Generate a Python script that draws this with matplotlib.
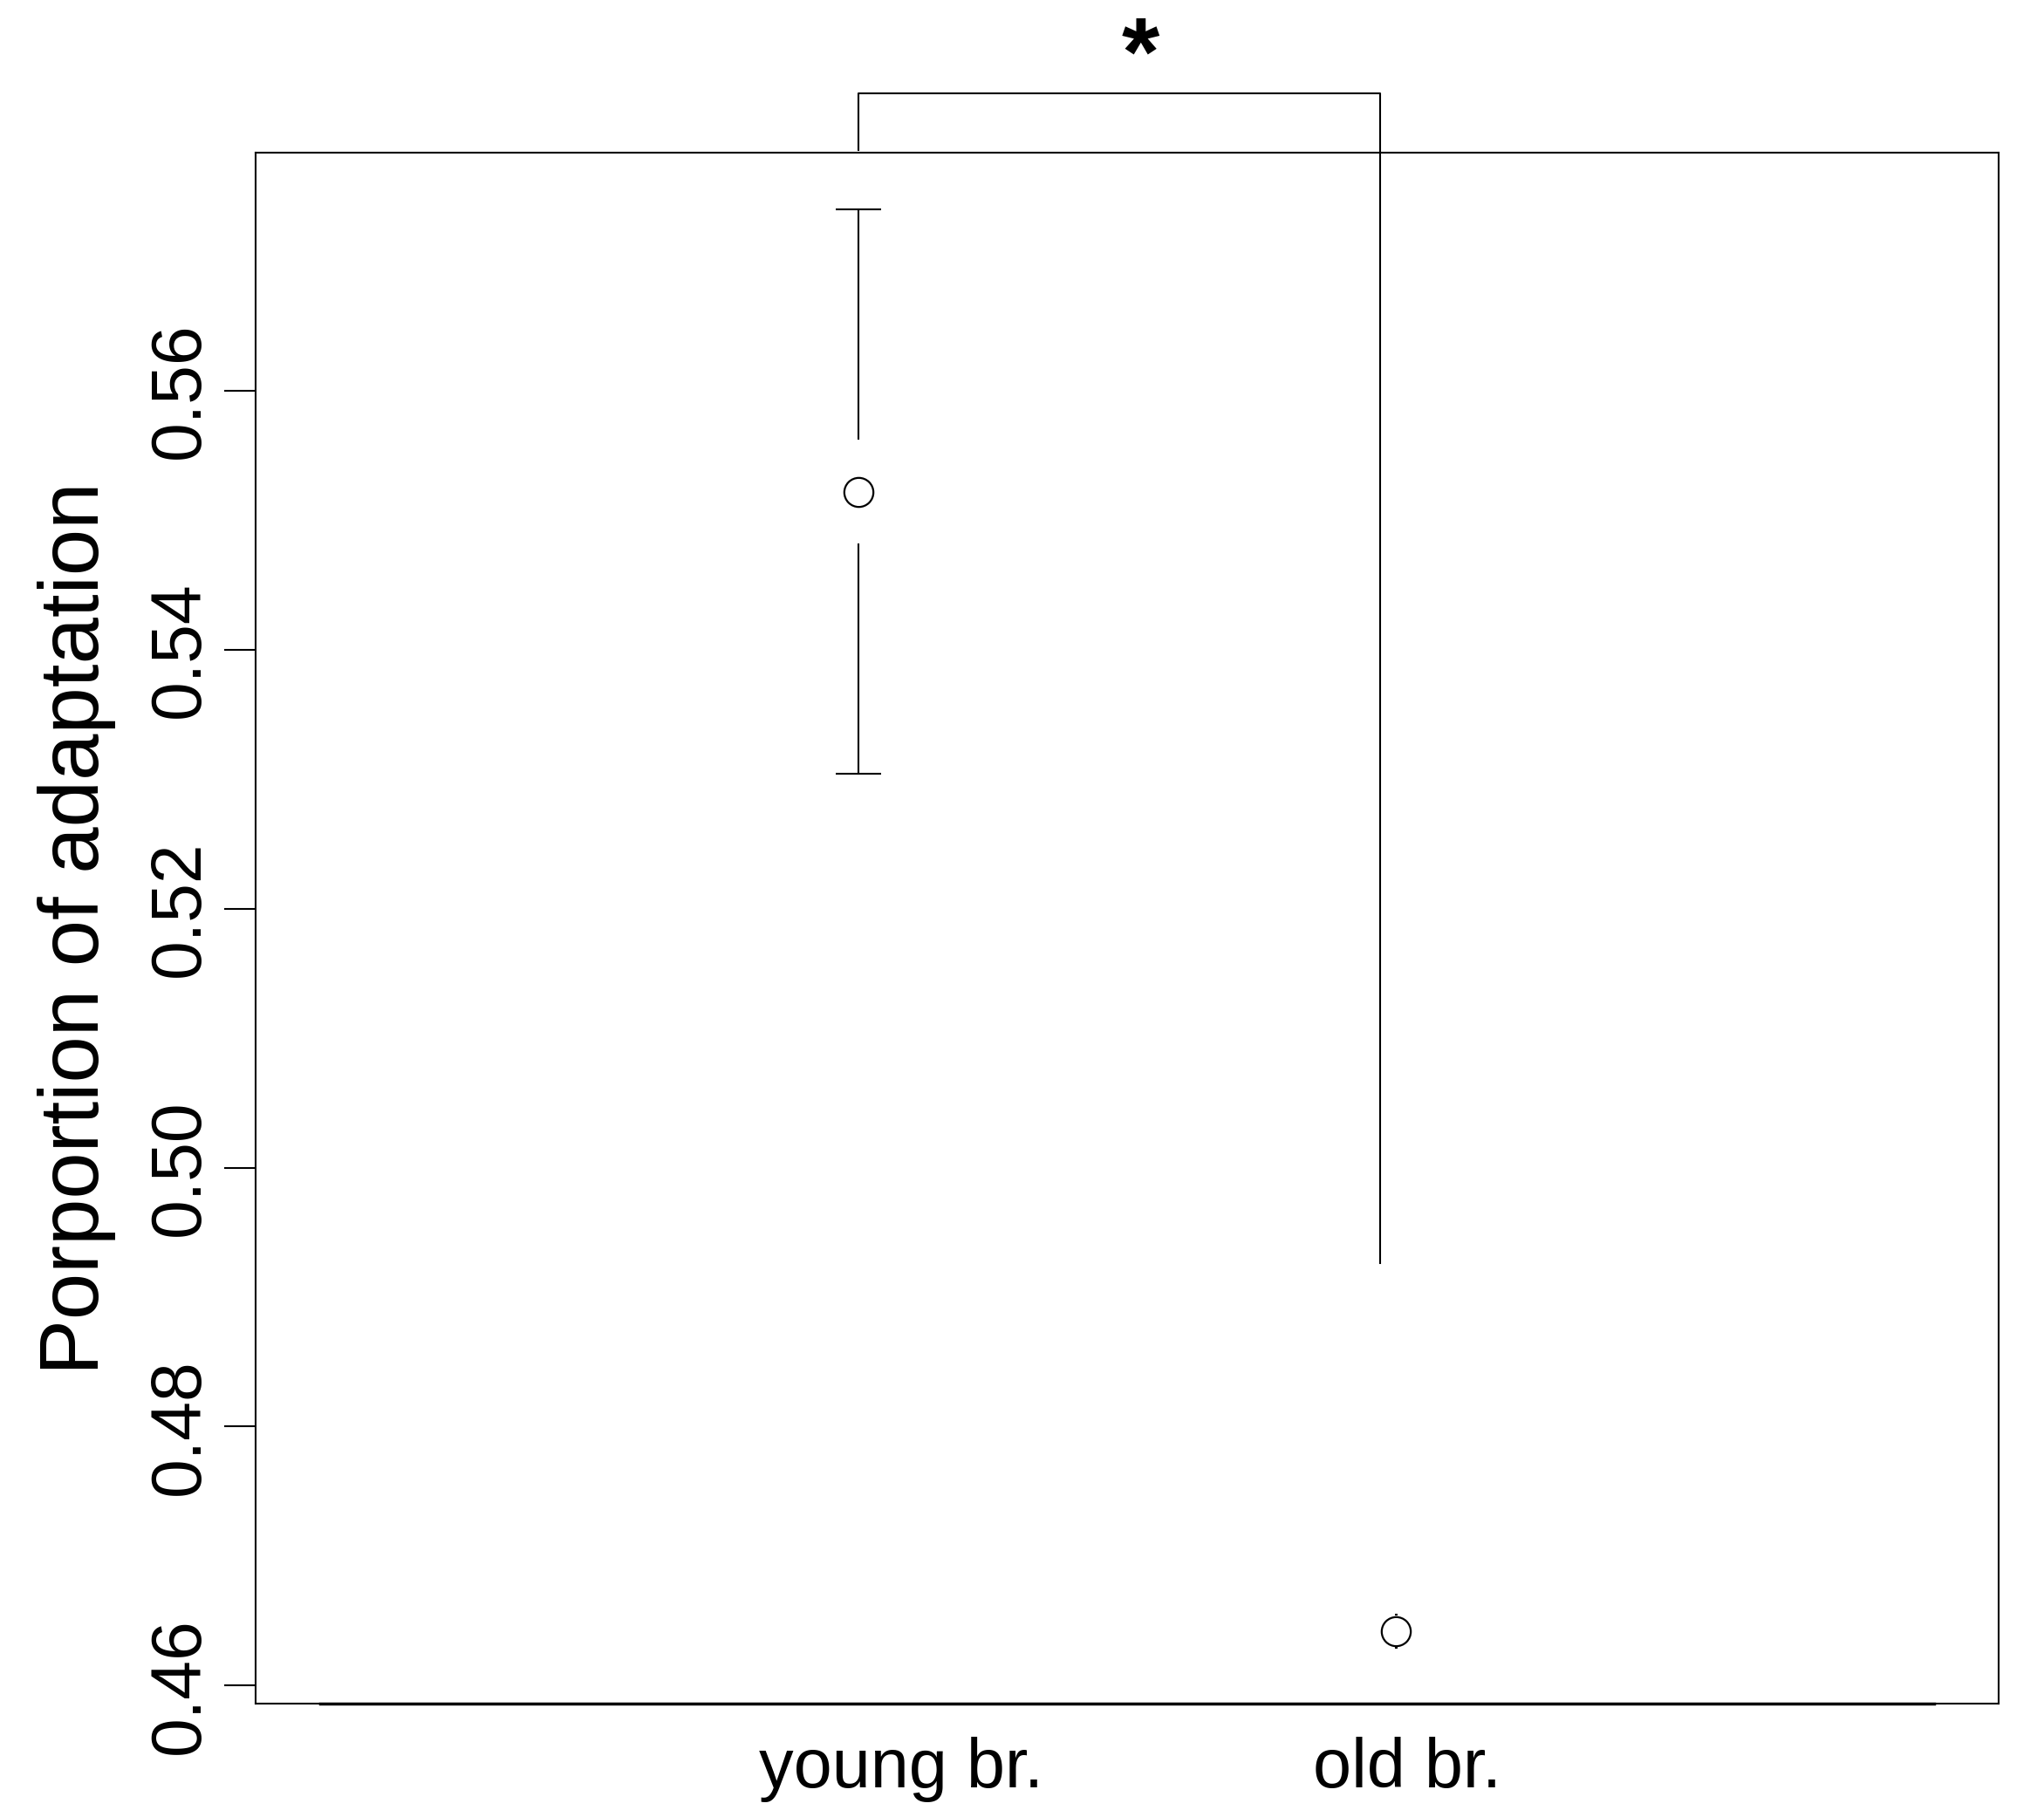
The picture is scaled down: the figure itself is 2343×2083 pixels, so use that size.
import matplotlib.pyplot as plt

plt.rcParams['font.family'] = ['Liberation Sans', 'DejaVu Sans']

# Datos
grupos = ["young br.", "old br."]
x_pos = [1, 2]
medias = [0.5522, 0.4642]
lim_sup = [0.5740, 0.4655]
lim_inf = [0.5304, 0.4629]
pos_etiquetas = [1.08, 2.02]

y_ticks = [0.46, 0.48, 0.50, 0.52, 0.54, 0.56]
y_etiquetas = ["0.46", "0.48", "0.50", "0.52", "0.54", "0.56"]

# Corchete de significancia
corchete_x = [1, 1.97]
corchete_y = 0.5830
corchete_pie_izq = 0.5786
corchete_pie_der = 0.4926
asterisco_x = 1.525
asterisco_y = 0.5836

fig = plt.figure(figsize=(23.43, 20.83), dpi=100)
ax = fig.add_axes([0.1251, 0.0624, 0.8527, 0.8536])
ax.set_xlim(-0.12, 3.12)
ax.set_ylim(0.4586, 0.5784)

# Barras de error con hueco alrededor del punto
hueco = 0.004
media_cap = 0.042
for x, m, s, i in zip(x_pos, medias, lim_sup, lim_inf):
    if s - m > hueco:
        ax.vlines(x, m + hueco, s, color="black", lw=1.5)
        ax.vlines(x, i, m - hueco, color="black", lw=1.5)
        ax.hlines([s, i], x - media_cap, x + media_cap, color="black", lw=1.5)
    else:
        ax.hlines([s, i], x - 0.002, x + 0.002, color="black", lw=1.5)

ax.plot(x_pos, medias, "o", mfc="white", mec="black", ms=24, mew=1.6, zorder=3)

# Corchete y asterisco
ax.plot([corchete_x[0], corchete_x[0], corchete_x[1], corchete_x[1]],
        [corchete_pie_izq, corchete_y, corchete_y, corchete_pie_der],
        color="black", lw=1.5, clip_on=False)
ax.text(asterisco_x, asterisco_y, "*", fontsize=80, fontweight="bold",
        ha="center", va="baseline", clip_on=False)

# Linea del eje x (de 0 a 3, como en R)
ax.plot([0, 3], [ax.get_ylim()[0]] * 2, color="black", lw=2.5, clip_on=False)

for sp in ax.spines.values():
    sp.set_linewidth(1.5)

ax.set_yticks(y_ticks)
ax.set_yticklabels(y_etiquetas, rotation=90, va="center")
ax.tick_params(axis="y", length=26, width=1.5, pad=9, labelsize=58)

ax.set_xticks(pos_etiquetas)
ax.set_xticklabels(grupos)
ax.tick_params(axis="x", length=0, pad=27, labelsize=57)

ax.set_ylabel("Porportion of adaptation", fontsize=69)
ax.yaxis.set_label_coords(-0.080, 0.5)

fig.savefig("out.png", dpi=100)
